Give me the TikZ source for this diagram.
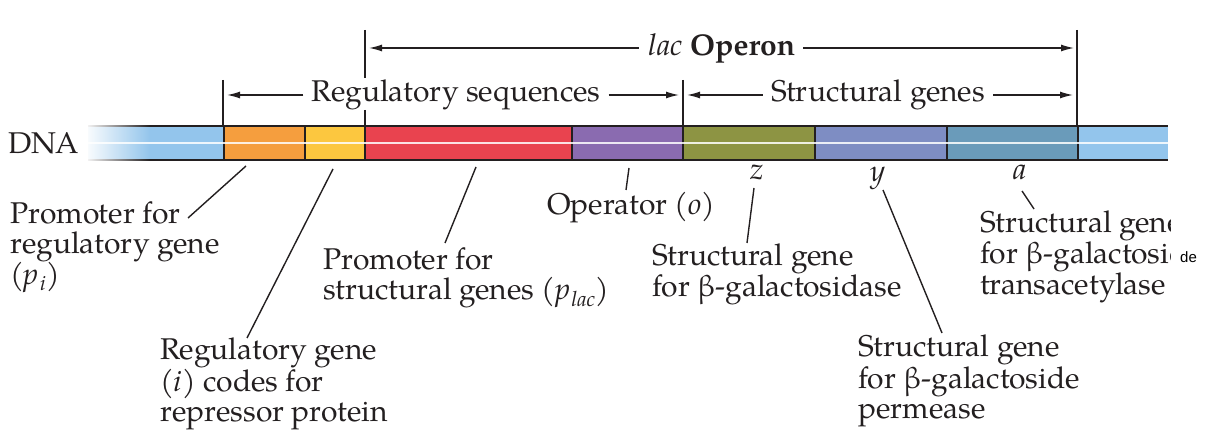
\documentclass[tikz,border=0pt]{standalone}
\usepackage{fontspec}
\setmainfont{TeX Gyre Pagella}
\newfontfamily\sansde{Liberation Sans}
\usetikzlibrary{arrows.meta,fadings}
\tikzfading[name=fadeR, left color=transparent!0, right color=transparent!100]
\definecolor{dnablue}{HTML}{93C5EC}
\definecolor{cor}{HTML}{F59E3E}
\definecolor{cyl}{HTML}{FCC73F}
\definecolor{cred}{HTML}{E9434F}
\definecolor{cpur}{HTML}{8A6BB0}
\definecolor{col}{HTML}{8D9443}
\definecolor{cbp}{HTML}{7E8DC3}
\definecolor{cteal}{HTML}{6A9BBA}
\definecolor{ink}{HTML}{231F20}
\newcommand{\fsz}{\fontsize{30}{30}\selectfont}
\begin{document}
\begin{tikzpicture}[x=1pt,y=-1pt,
  lbl/.style={font=\fsz, align=left, inner sep=0pt, anchor=base west, text=ink},
  glbl/.style={font=\fsz\itshape, inner sep=0pt, anchor=base, text=ink},
  ttl/.style={font=\fsz, inner sep=0pt, anchor=base, text=ink},
  conn/.style={draw=ink, line width=1.4pt},
  tick/.style={draw=ink, line width=1.4pt},
  arr/.style={draw=ink, line width=1.4pt, -{Latex[length=13pt,width=7pt]}},
  seg/.style={line width=1.4pt}]
\useasboundingbox (0,0) rectangle (1208,446);
% DNA bar
\fill[dnablue] (88,126) rectangle (224,160);
\fill[cor] (224,126) rectangle (305,160);
\fill[cyl] (305,126) rectangle (365,160);
\fill[cred] (365,126) rectangle (572,160);
\fill[cpur] (572,126) rectangle (683,160);
\fill[col] (683,126) rectangle (815,160);
\fill[cbp] (815,126) rectangle (947,160);
\fill[cteal] (947,126) rectangle (1078,160);
\fill[dnablue] (1078,126) rectangle (1168,160);
\draw[ink, seg] (88,126) -- (1168,126) (88,160) -- (1168,160);
\foreach \xx in {224,305,365,572,683,815,947,1078}
  \draw[ink, seg] (\xx,126) -- (\xx,160);
\draw[white, line width=2pt, opacity=0.85] (88,143) -- (1168,143);
\fill[white, path fading=fadeR] (84,122) rectangle (150,164);
% labels (base anchor = baseline of the last line)
\node[lbl] (dna) at (8,154) {DNA};
\node[lbl] (pi) at (10,285) {Promoter for\\regulatory gene\\(\textit{p}\kern1pt\textsubscript{\textit{i}})};
\node[lbl] (ig) at (160,421) {Regulatory gene\\(\textit{i}) codes for\\repressor protein};
\node[lbl] (plac) at (323,300) {Promoter for\\structural genes (\textit{p}\kern1pt\textsubscript{\textit{lac}})};
\node[lbl] (op) at (547,215) {Operator (\textit{o})};
\node[glbl] (z) at (757,180) {z};
\node[glbl] (y) at (878,182) {y};
\node[glbl] (a) at (1020,180) {a};
\node[lbl] (zt) at (652,297) {Structural gene\\for β-galactosidase};
\node[lbl] (yt) at (858,418) {Structural gene\\for β-galactoside\\permease};
\begin{scope}
\clip (0,0) rectangle (1170,446);
\node[lbl] (at) at (980,295) {Structural gene\\for β-galactoside\\transacetylase};
\end{scope}
\node[font=\sansde\fontsize{15}{15}\selectfont, inner sep=0pt, anchor=base west, text=black] (de) at (1180,263) {de};
% connectors
\coordinate (c1a) at (188,218); \coordinate (c1b) at (246,166);
\coordinate (c2a) at (247,338); \coordinate (c2b) at (333,169);
\coordinate (c3a) at (445,243); \coordinate (c3b) at (476,167);
\coordinate (c4a) at (626,190); \coordinate (c4b) at (629,168);
\coordinate (c5a) at (747,243); \coordinate (c5b) at (754,188);
\coordinate (c6a) at (942,333); \coordinate (c6b) at (883,190);
\coordinate (c7a) at (1034,209); \coordinate (c7b) at (1022,191);
\draw[conn] (c1a) -- (c1b);
\draw[conn] (c2a) -- (c2b);
\draw[conn] (c3a) -- (c3b);
\draw[conn] (c4a) -- (c4b);
\draw[conn] (c5a) -- (c5b);
\draw[conn] (c6a) -- (c6b);
\draw[conn] (c7a) -- (c7b);
% top brackets
\node[ttl] (lac) at (722,56) {\textit{lac} \textbf{Operon}};
\node[ttl] (rs) at (456,102) {Regulatory sequences};
\node[ttl] (sg) at (878,102) {Structural genes};
\coordinate (t1a) at (365,30); \coordinate (t1b) at (365,78);
\coordinate (t1c) at (365,110); \coordinate (t1d) at (365,126);
\coordinate (t2a) at (223,80); \coordinate (t2b) at (223,126);
\coordinate (t3a) at (683,80); \coordinate (t3b) at (683,126);
\coordinate (t4a) at (1077,30); \coordinate (t4b) at (1077,126);
\draw[tick] (t1a) -- (t1b) (t1c) -- (t1d) (t2a) -- (t2b) (t3a) -- (t3b) (t4a) -- (t4b);
\draw[arr] (lac.west |- 0,48) ++(-10,0) coordinate (l1) -- (369,48) coordinate (l1e);
\draw[arr] (lac.east |- 0,48) ++(8,0) coordinate (l2) -- (1074,48) coordinate (l2e);
\draw[arr] (rs.west |- 0,95) ++(-8,0) coordinate (r1) -- (227,95) coordinate (r1e);
\draw[arr] (rs.east |- 0,95) ++(8,0) coordinate (r2) -- (679,95) coordinate (r2e);
\draw[arr] (sg.west |- 0,95) ++(-8,0) coordinate (s1) -- (687,95) coordinate (s1e);
\draw[arr] (sg.east |- 0,95) ++(8,0) coordinate (s2) -- (1073,95) coordinate (s2e);
\end{tikzpicture}
\end{document}
